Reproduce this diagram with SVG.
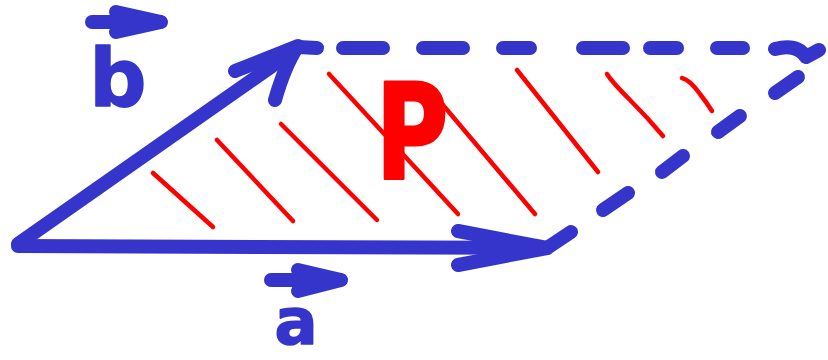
<svg xmlns="http://www.w3.org/2000/svg" width="828" height="360" viewBox="0 0 828 360">
  <style>
    .blue { fill: none; stroke: #3535CC; stroke-width: 14; stroke-linecap: round; stroke-linejoin: round; }
    .hatch { fill: none; stroke: #FF0000; stroke-width: 4.5; stroke-linecap: round; stroke-linejoin: round; }
    .lbl { font-family: "DejaVu Sans", "Liberation Sans", sans-serif; font-weight: bold; text-anchor: middle; }
    .lblb { fill: #3535CC; stroke: #3535CC; stroke-width: 1.5; stroke-linejoin: round; }
    .lblr { fill: #FF0000; stroke: #FF0000; stroke-width: 3; stroke-linejoin: round; }
  </style>
  <rect width="828" height="360" fill="#FFFFFF"/>

  <g id="hatching">
    <line class="hatch" x1="153" y1="173" x2="213" y2="227"/>
    <line class="hatch" x1="217" y1="140" x2="293" y2="221"/>
    <line class="hatch" x1="281" y1="124" x2="377" y2="220"/>
    <line class="hatch" x1="329" y1="74" x2="458" y2="214"/>
    <line class="hatch" x1="432" y1="92" x2="535" y2="214"/>
    <line class="hatch" x1="517" y1="70" x2="598" y2="172"/>
    <path class="hatch" d="M607,74 Q612,82 630,100 Q648,118 663,136"/>
    <path class="hatch" d="M682,78 Q690,80 700,94 Q707,103 712,111"/>
  </g>

  <g id="connectors">
    <g id="vector-a">
      <line class="blue" x1="18" y1="246" x2="545" y2="248"/>
      <polyline class="blue" points="458,231 547,248 458,265"/>
    </g>
    <g id="vector-b">
      <line class="blue" x1="18" y1="244" x2="292" y2="52"/>
      <path class="blue" d="M235,71 L298,46 Q285,65 275,100"/>
    </g>
    <g id="dashed-top">
      <line class="blue" x1="298" y1="47" x2="317" y2="48"/>
      <line class="blue" x1="343" y1="48" x2="383" y2="48"/>
      <line class="blue" x1="423" y1="48" x2="463" y2="48"/>
      <line class="blue" x1="503" y1="48" x2="530" y2="48"/>
      <line class="blue" x1="583" y1="48" x2="623" y2="48"/>
      <line class="blue" x1="650" y1="48" x2="677" y2="48"/>
      <line class="blue" x1="717" y1="48" x2="743" y2="48"/>
      <path class="blue" d="M775,49 Q797,43 806,57 L819,50"/>
    </g>
    <g id="dashed-right">
      <line class="blue" x1="547" y1="248" x2="571" y2="232"/>
      <line class="blue" x1="603" y1="210" x2="628" y2="193"/>
      <line class="blue" x1="662" y1="172" x2="683" y2="156"/>
      <line class="blue" x1="718" y1="132" x2="740" y2="116"/>
      <line class="blue" x1="775" y1="93" x2="798" y2="77"/>
    </g>
  </g>

  <g id="label-b">
    <line class="blue" x1="92" y1="22" x2="160" y2="22" stroke-width="12"/>
    <polyline class="blue" points="116,12 161,22 116,32" stroke-width="12"/>
    <text class="lbl lblb" x="118" y="106" font-size="80">b</text>
  </g>
  <g id="label-a">
    <line class="blue" x1="271" y1="280" x2="340" y2="280" stroke-width="12"/>
    <polyline class="blue" points="298,270 341,280 298,291" stroke-width="12"/>
    <text class="lbl lblb" x="296" y="344" font-size="64">a</text>
  </g>
  <g id="label-P">
    <text class="lbl lblr" transform="translate(412,178) scale(0.75,1)" x="0" y="0" font-size="132">P</text>
  </g>
</svg>
